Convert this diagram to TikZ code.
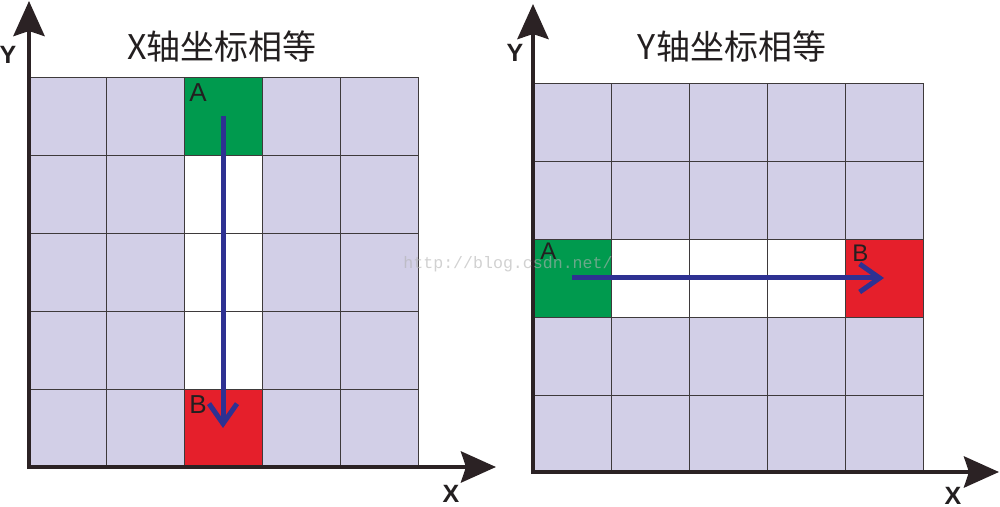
\documentclass[tikz,border=0pt]{standalone}
\usepackage{fontspec}
\setmainfont{Liberation Sans}
\newfontfamily\cjk{Noto Sans CJK SC}
\newfontfamily\wmfont{Liberation Mono}
\usetikzlibrary{arrows.meta}
\definecolor{lav}{HTML}{D2CFE7}
\definecolor{cgreen}{HTML}{009A4E}
\definecolor{cred}{HTML}{E51F2B}
\definecolor{arrowblue}{HTML}{2E3192}
\definecolor{axiscol}{HTML}{2B2224}
\definecolor{gridline}{HTML}{3E3A3B}
\definecolor{txt}{HTML}{231F20}
\tikzset{
  cell/.style={draw=gridline, line width=0.45pt, minimum width=39pt, minimum height=39pt, inner sep=0pt, outer sep=0pt, fill=lav},
  celllav/.style={fill=lav},
  cellwht/.style={fill=white},
  cellgrn/.style={fill=cgreen},
  cellred/.style={fill=cred},
  axisline/.style={draw=axiscol, line width=2.3pt, -{Stealth[length=17.5pt, width=15.5pt, inset=2.5pt]}},
  moveline/.style={draw=arrowblue, line width=2.5pt, -{Straight Barb[length=10pt, width=14pt]}},
  title/.style={font=\cjk\fontsize{17}{20}\selectfont, text=txt, inner sep=0pt},
  axislabel/.style={font=\bfseries\fontsize{12.5}{15}\selectfont, text=txt, inner sep=0pt},
  celllabel/.style={text=txt, inner sep=0pt, anchor=north west},
  watermark/.style={font=\wmfont\fontsize{8.3}{10}\selectfont, text=gray!60, opacity=0.6, inner sep=0pt}
}
\begin{document}
\begin{tikzpicture}[x=0.5pt, y=-0.5pt]
\useasboundingbox (0,0) rectangle (1000,507);
% left grid
\foreach \r in {0,...,4}{\foreach \c in {0,...,4}{
  \def\st{celllav}
  \ifnum\c=2 \def\st{cellwht}\ifnum\r=0 \def\st{cellgrn}\fi\ifnum\r=4 \def\st{cellred}\fi\fi
  \node[cell,\st] (L-\r-\c) at (67+78*\c, 116+78*\r) {};
}}
% right grid
\foreach \r in {0,...,4}{\foreach \c in {0,...,4}{
  \def\st{celllav}
  \ifnum\r=2 \def\st{cellwht}\ifnum\c=0 \def\st{cellgrn}\fi\ifnum\c=4 \def\st{cellred}\fi\fi
  \node[cell,\st] (R-\r-\c) at (572+78*\c, 122+78*\r) {};
}}
% axes
\coordinate (LO) at (27,467);
\coordinate (LYtip) at (29,1);
\coordinate (LXtip) at (496,467);
\coordinate (LYb) at (29,469);
\coordinate (RO) at (531,472);
\coordinate (RYtip) at (533,4);
\coordinate (RXtip) at (999,472);
\coordinate (RYb) at (533,474);
\draw[axisline] (LYb) -- (LYtip);
\draw[axisline] (LO) -- (LXtip);
\draw[axisline] (RYb) -- (RYtip);
\draw[axisline] (RO) -- (RXtip);
\node[axislabel] (LYl) at (8,55) {Y};
\node[axislabel] (LXl) at (451,494) {X};
\node[axislabel] (RYl) at (515,53) {Y};
\node[axislabel] (RXl) at (953,496) {X};
% titles
\node[title] (LT) at (222,46) {X轴坐标相等};
\node[title] (RT) at (732,46) {Y轴坐标相等};
% cell labels
\node[celllabel, font=\fontsize{13}{15}\selectfont] (LAl) at ([xshift=2.5pt,yshift=-3pt]L-0-2.north west) {A};
\node[celllabel, font=\fontsize{13}{15}\selectfont] (LBl) at ([xshift=2.5pt,yshift=-3pt]L-4-2.north west) {B};
\node[celllabel, font=\fontsize{12}{14}\selectfont] (RAl) at ([xshift=3.5pt,yshift=-2pt]R-2-0.north west) {A};
\node[celllabel, font=\fontsize{12}{14}\selectfont] (RBl) at ([xshift=3.5pt,yshift=-3pt]R-2-4.north west) {B};
% movement arrows
\draw[moveline] (L-0-2.center) -- (L-4-2.center);
\draw[moveline] (R-2-0.center) -- (R-2-4.center);
% watermark
\node[watermark] (wm) at (508,264) {http://blog.csdn.net/};
\end{tikzpicture}
\end{document}
